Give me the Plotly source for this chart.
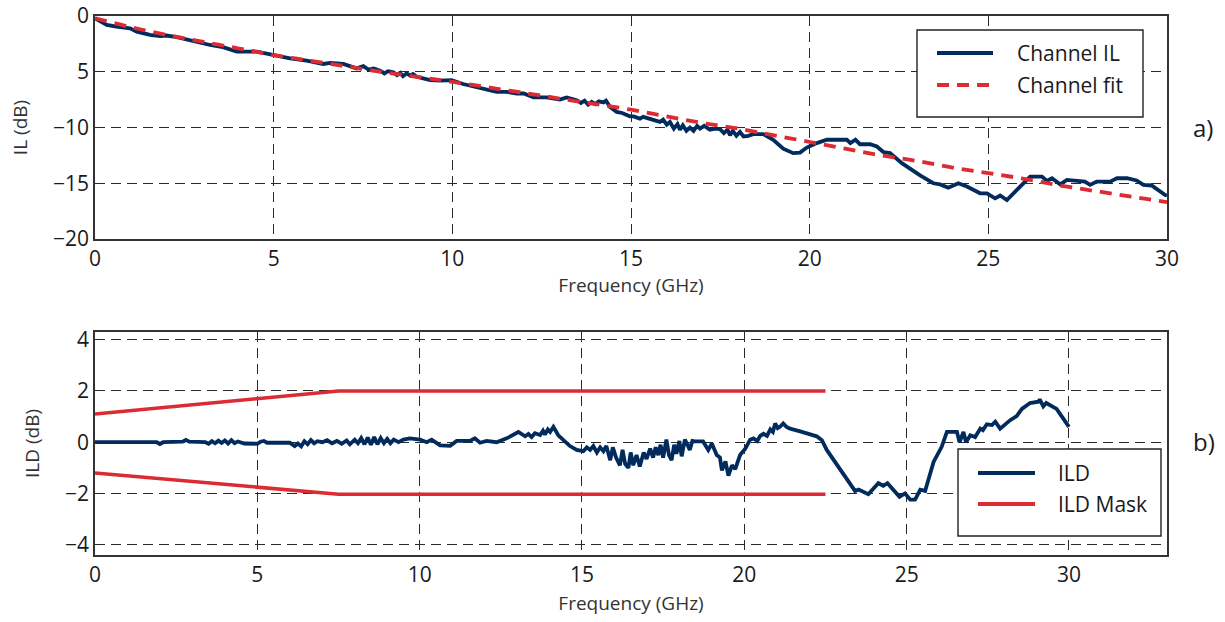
import plotly.graph_objects as go
from plotly.subplots import make_subplots

# ---------------- data ----------------
il_freq = [0.0, 0.15, 0.33, 0.6, 0.98, 1.17, 1.54, 1.82, 2.0, 2.29, 2.66, 3.22, 3.58, 3.97, 4.53, 4.99,
           5.46, 5.92, 6.39, 6.58, 6.95, 7.32, 7.51, 7.65, 7.8, 7.98, 8.1, 8.2, 8.35, 8.45, 8.54, 8.62,
           8.72, 8.82, 8.9, 9.0, 9.19, 9.38, 9.66, 9.98, 10.3, 10.68, 11.05, 11.24, 11.52, 11.8, 12.0,
           12.27, 12.64, 13.01, 13.2, 13.48, 13.6, 13.7, 13.8, 13.9, 14.0, 14.1, 14.23, 14.3, 14.41,
           14.6, 14.75, 14.88, 14.97, 15.07, 15.25, 15.34, 15.53, 15.81, 15.9, 16.0, 16.09, 16.2, 16.3,
           16.37, 16.45, 16.55, 16.65, 16.75, 16.85, 16.93, 17.05, 17.21, 17.35, 17.49, 17.6, 17.7,
           17.77, 17.85, 17.95, 18.05, 18.15, 18.28, 18.42, 18.7, 18.98, 19.26, 19.54, 19.73, 19.92,
           20.2, 20.48, 20.85, 21.04, 21.14, 21.28, 21.41, 21.69, 21.88, 22.06, 22.25, 22.58, 23.09,
           23.46, 23.65, 23.88, 24.16, 24.4, 24.77, 24.96, 25.19, 25.33, 25.52, 25.89, 26.17, 26.5,
           26.64, 26.78, 27.01, 27.2, 27.57, 27.7, 27.85, 28.03, 28.41, 28.6, 28.88, 29.15, 29.34,
           29.57, 29.95, 30.0]
il_db = [-0.2, -0.45, -0.8, -0.96, -1.1, -1.4, -1.7, -1.8, -1.75, -1.9, -2.2, -2.6, -2.8, -3.2, -3.2, -3.5,
         -3.8, -4.0, -4.3, -4.2, -4.3, -4.7, -4.5, -4.8, -4.7, -4.9, -5.15, -4.95, -5.05, -5.3, -5.1, -5.4,
         -5.15, -5.35, -5.2, -5.45, -5.6, -5.75, -5.8, -5.75, -6.1, -6.35, -6.6, -6.8, -6.8, -6.95, -6.95,
         -7.3, -7.3, -7.5, -7.3, -7.55, -7.8, -7.6, -7.95, -7.7, -7.9, -7.65, -7.75, -7.6, -8.15,
         -8.6, -8.7, -8.9, -9.0, -9.0, -9.2, -9.05, -9.2, -9.5, -9.3, -9.75, -9.5, -10.1, -9.7,
         -10.2, -9.8, -10.3, -10.0, -10.3, -9.85, -10.1, -9.85, -10.2, -10.1, -10.15, -10.5, -10.2,
         -10.7, -10.3, -10.75, -10.4, -10.8, -10.75, -10.6, -10.6, -11.1, -11.9, -12.3, -12.25, -11.8,
         -11.4, -11.1, -11.1, -11.1, -11.4, -11.1, -11.5, -11.5, -11.7, -12.2, -12.3, -13.2, -14.3,
         -15.0, -15.1, -15.4, -15.0, -15.3, -15.9, -15.9, -16.35, -16.1, -16.5, -15.3, -14.4, -14.4,
         -14.8, -14.55, -15.1, -14.7, -14.8, -14.85, -15.15, -14.85, -14.85, -14.55, -14.55, -14.75, -15.15,
         -15.2, -16.05, -16.1]

fit_freq = list(range(0, 31))
fit_db = [-0.2, -1.0, -1.7, -2.3, -2.9, -3.5, -4.0, -4.5, -5.0, -5.45, -5.9, -6.4, -6.9, -7.4, -7.9, -8.4,
          -9.0, -9.6, -10.1, -10.7, -11.3, -11.9, -12.5, -13.0, -13.6, -14.1, -14.6, -15.2, -15.7, -16.2, -16.7]

ild_freq = [0, 1.9, 2.0, 2.1, 2.7, 2.8, 2.9, 3.4, 3.5, 3.6, 3.7, 3.8, 3.9, 4.0, 4.1, 4.2, 4.3, 4.4, 4.6, 5.0,
            5.1, 5.2, 5.3, 6.0, 6.15, 6.25, 6.35, 6.45, 6.55, 6.65, 6.75, 6.85, 7.0, 7.15, 7.3, 7.45, 7.6,
            7.75, 7.85, 8.0, 8.1, 8.2, 8.3, 8.4, 8.5, 8.6, 8.7, 8.8, 8.9, 9.0, 9.1, 9.2, 9.35, 9.5, 9.7,
            10.01, 10.22, 10.37, 10.63, 10.94, 11.14, 11.55, 11.7, 11.86, 12.06, 12.37, 12.68, 13.04,
            13.25, 13.35, 13.45, 13.55, 13.71, 13.8, 13.86, 13.95, 14.02, 14.12, 14.27, 14.43, 14.63,
            14.84, 15.04, 15.15, 15.25, 15.35, 15.46, 15.56, 15.66, 15.75, 15.87, 15.95, 16.05, 16.17,
            16.25, 16.33, 16.43, 16.5, 16.58, 16.68, 16.78, 16.9, 16.99, 17.1, 17.19, 17.27, 17.35,
            17.42, 17.5, 17.6, 17.68, 17.76, 17.84, 17.91, 18.0, 18.07, 18.17, 18.25, 18.32, 18.4,
            18.48, 18.73, 18.89, 19.0, 19.15, 19.25, 19.31, 19.42, 19.51, 19.62, 19.72, 19.87, 20.03,
            20.18, 20.28, 20.4, 20.49, 20.59, 20.7, 20.8, 20.88, 20.95, 21.03, 21.1, 21.2, 21.3, 21.41,
            21.72, 22.03, 22.23, 22.39, 22.54, 23.41, 23.52, 23.82, 24.13, 24.28, 24.41, 24.78, 24.95,
            25.11, 25.26, 25.42, 25.57, 25.83, 26.08, 26.24, 26.45, 26.55, 26.63, 26.75, 26.83, 26.96,
            27.11, 27.27, 27.35, 27.47, 27.63, 27.73, 27.88, 28.19, 28.39, 28.55, 28.8, 29.06, 29.1,
            29.21, 29.3, 29.62, 30.0]
ild_db = [0, 0, -0.07, 0, 0.02, 0.09, 0.02, 0, -0.06, 0.04, -0.04, 0.06, -0.03, 0.07, -0.05, 0.08, -0.04, 0.03,
          -0.05, -0.06, 0.02, 0.05, -0.02, -0.02, -0.15, -0.05, -0.16, 0.04, -0.08, 0.08, -0.04, 0.04, 0.0,
          0.08, -0.04, 0.05, -0.06, 0.07, -0.08, 0.1, -0.04, 0.16, -0.08, 0.18, -0.1, 0.2, -0.08, 0.16,
          -0.04, 0.13, -0.04, 0.1, 0.0, 0.1, 0.15, 0.1, 0.0, 0.1, -0.12, -0.14, 0.05, 0.05, 0.15, -0.02,
          0.05, 0.0, 0.15, 0.4, 0.23, 0.32, 0.2, 0.35, 0.28, 0.45, 0.3, 0.5, 0.4, 0.6, 0.27, 0.08, -0.15,
          -0.3, -0.35, -0.2, -0.3, -0.15, -0.4, -0.2, -0.35, -0.15, -0.7, -0.2, -0.6, -0.9, -0.3, -0.85,
          -1.0, -0.4, -0.9, -0.5, -0.95, -0.4, -0.65, -0.25, -0.6, -0.2, -0.5, -0.1, -0.6, 0.1, -0.5,
          -0.7, -0.1, -0.45, 0.05, -0.55, 0.1, -0.1, -0.3, 0.05, 0.03, 0.03, -0.3, -0.05, -0.5, -0.6,
          -1.1, -0.75, -1.3, -0.9, -1.05, -0.5, -0.25, 0.1, 0.15, 0.05, 0.25, 0.33, 0.25, 0.5, 0.4, 0.73,
          0.55, 0.6, 0.73, 0.6, 0.53, 0.42, 0.3, 0.23, 0.08, -0.3, -1.9, -1.85, -2.03, -1.6, -1.7, -1.6,
          -2.13, -2.0, -2.24, -2.24, -1.85, -1.9, -0.77, -0.18, 0.4, 0.38, 0.4, 0.0, 0.4, 0.0, 0.27, 0.2,
          0.53, 0.47, 0.7, 0.67, 0.8, 0.53, 0.86, 1.02, 1.3, 1.53, 1.58, 1.67, 1.4, 1.53, 1.3, 0.6]

mask_freq = [0, 7.5, 22.5]
mask_upper = [1.1, 2.0, 2.0]
mask_lower = [-1.2, -2.03, -2.03]

il_tickvals = [-20, -15, -10, -5, 0]
il_ticktext = ["\u221220", "\u221215", "\u221210", "5", "0"]
ild_tickvals = [-4, -2, 0, 2, 4]
ild_ticktext = ["\u22124", "\u22122", "0", "2", "4"]
freq_ticks = [0, 5, 10, 15, 20, 25, 30]

legend_top_names = ["Channel IL", "Channel fit"]
legend_bot_names = ["ILD", "ILD Mask"]

# ---------------- style ----------------
NAVY = "#002b5c"
RED = "#dc2b33"
TXT = "#1a1a1a"
FONT = "Open Sans"
W, H = 1225, 622
ML, MR, MT, MB = 95, 58, 16, 67
pw = W - ML - MR
ph = H - MT - MB


def px_x(px):
    return (px - ML) / pw


def px_y(py):
    return 1 - (py - MT) / ph


fig = make_subplots(rows=2, cols=1, vertical_spacing=0.0)

fig.add_trace(go.Scatter(x=il_freq, y=il_db, mode="lines", name=legend_top_names[0],
                         line=dict(color=NAVY, width=3.8), showlegend=False), row=1, col=1)
fig.add_trace(go.Scatter(x=fit_freq, y=fit_db, mode="lines", name=legend_top_names[1],
                         line=dict(color=RED, width=3.8, dash="12px,8px", shape="spline"),
                         showlegend=False), row=1, col=1)
fig.add_trace(go.Scatter(x=ild_freq, y=ild_db, mode="lines", name=legend_bot_names[0],
                         line=dict(color=NAVY, width=3.8), showlegend=False), row=2, col=1)
fig.add_trace(go.Scatter(x=mask_freq, y=mask_upper, mode="lines", name=legend_bot_names[1],
                         line=dict(color=RED, width=3.5), showlegend=False), row=2, col=1)
fig.add_trace(go.Scatter(x=mask_freq, y=mask_lower, mode="lines", name=legend_bot_names[1],
                         line=dict(color=RED, width=3.5), showlegend=False), row=2, col=1)

axstyle = dict(showgrid=True, gridcolor="#2a2a2a", griddash="10px,6px", gridwidth=1.2,
               showline=True, linecolor="#333333", linewidth=1.6, mirror=True, automargin=False,
               zeroline=False, ticks="", tickfont=dict(size=21, color=TXT, family=FONT))
titlefont = dict(size=19, color="#333333", family=FONT)

fig.update_xaxes(range=[0, 30], tickvals=freq_ticks, domain=[0, 1],
                 title=dict(text="Frequency (GHz)", font=titlefont, standoff=8),
                 row=1, col=1, **axstyle)
fig.update_yaxes(range=[-20, 0], tickvals=il_tickvals, ticktext=il_ticktext,
                 domain=[px_y(239), px_y(16)],
                 title=dict(text="IL (dB)", font=titlefont, standoff=20),
                 row=1, col=1, **axstyle)
fig.update_xaxes(range=[0, 33.02], tickvals=freq_ticks, domain=[0, 1],
                 title=dict(text="Frequency (GHz)", font=titlefont, standoff=10),
                 row=2, col=1, **axstyle)
fig.update_yaxes(range=[-4.4, 4.3], tickvals=ild_tickvals, ticktext=ild_ticktext,
                 domain=[px_y(555), px_y(332)],
                 title=dict(text="ILD (dB)", font=titlefont, standoff=20),
                 row=2, col=1, **axstyle)

# ---- legends drawn as boxes with sample lines and text ----
shapes = []
annotations = []


def add_legend(x0, y0, x1, y1, rows, line_x0, line_x1, text_x):
    shapes.append(dict(type="rect", xref="paper", yref="paper", x0=px_x(x0), x1=px_x(x1),
                       y0=px_y(y1), y1=px_y(y0), line=dict(color="#222222", width=1.4),
                       fillcolor="white", layer="above"))
    for (ry, name, color, dash) in rows:
        shapes.append(dict(type="line", xref="paper", yref="paper", x0=px_x(line_x0), x1=px_x(line_x1),
                           y0=px_y(ry), y1=px_y(ry), line=dict(color=color, width=4, dash=dash),
                           layer="above"))
        annotations.append(dict(text=name, x=px_x(text_x), y=px_y(ry), xref="paper", yref="paper",
                                xanchor="left", yanchor="middle", showarrow=False,
                                font=dict(size=21, color=TXT, family=FONT)))


add_legend(917, 30, 1143, 117,
           [(53, legend_top_names[0], NAVY, "solid"), (85, legend_top_names[1], RED, "12px,8px")],
           937, 993, 1015)
add_legend(958, 449, 1161, 536,
           [(473, legend_bot_names[0], NAVY, "solid"), (504, legend_bot_names[1], RED, "solid")],
           978, 1035, 1056)

annotations.append(dict(text="a)", x=px_x(1203), y=px_y(127), xref="paper", yref="paper",
                        xanchor="center", yanchor="middle", showarrow=False,
                        font=dict(size=24, color=TXT, family=FONT)))
annotations.append(dict(text="b)", x=px_x(1204), y=px_y(441), xref="paper", yref="paper",
                        xanchor="center", yanchor="middle", showarrow=False,
                        font=dict(size=24, color=TXT, family=FONT)))

fig.update_layout(
    width=W, height=H,
    margin=dict(l=ML, r=MR, t=MT, b=MB),
    paper_bgcolor="white", plot_bgcolor="white",
    font=dict(family=FONT),
    showlegend=False,
    shapes=shapes,
    annotations=annotations,
)

fig.write_html("out.html")
